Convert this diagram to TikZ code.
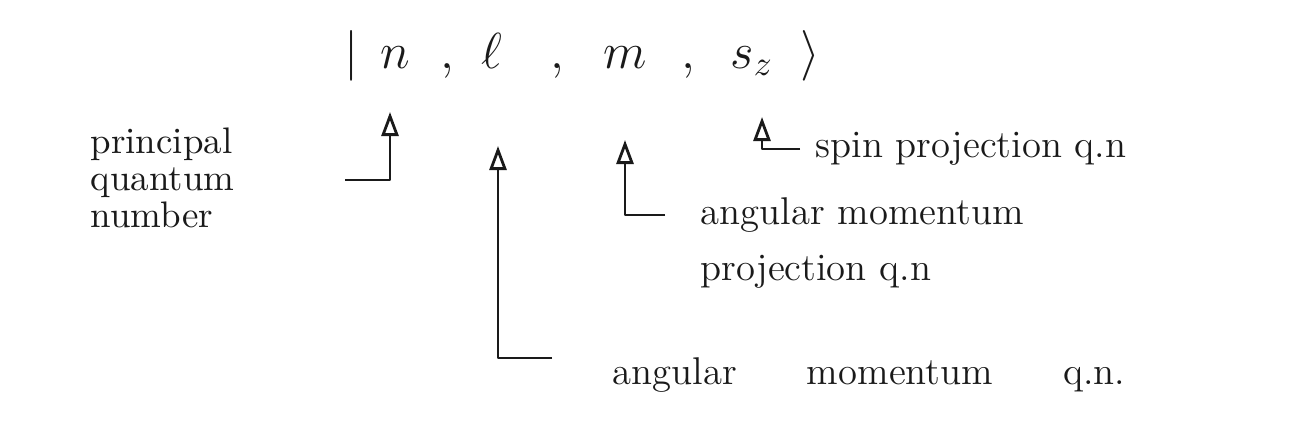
\documentclass[tikz,border=0pt]{standalone}
\usepackage{amsmath,amssymb}
\usepackage{xcolor}
\usepackage{tikz}
\usetikzlibrary{arrows.meta}
\definecolor{ink}{HTML}{1A1A1A}
\tikzset{
  qarrow/.style={thick,ink,line join=round,-{Triangle[open,length=2.4mm,width=1.7mm]}},
  ketsym/.style={anchor=base,inner sep=0pt,font=\Large,text=ink},
  qlabel/.style={anchor=base west,inner sep=0pt,font=\fontsize{11}{13}\selectfont,text=ink,align=left}
}

\begin{document}
\begin{tikzpicture}[x=0.01cm,y=-0.01cm]
\useasboundingbox (0,0) rectangle (1295,439);
% the ket
\node[ketsym] (kbar) at (352,68) {$|$};
\node[ketsym] (kn) at (395,68) {$n$};
\node[ketsym] at (447,68) {$,$};
\node[ketsym] (kl) at (492,68) {$\ell$};
\node[ketsym] at (557,68) {$,$};
\node[ketsym] (km) at (625,68) {$m$};
\node[ketsym] at (688,68) {$,$};
\node[ketsym] (ks) at (752,68) {$s_z$};
\node[ketsym] (kang) at (810,68) {$\rangle$};
% labels
\node[qlabel,anchor=west,font=\fontsize{10.5}{10.5}\selectfont] (lprin) at (90,178) {principal\\quantum\\number};
\node[qlabel] (lspin) at (815,157) {spin projection q.n};
\node[qlabel,anchor=west,font=\fontsize{11}{16}\selectfont] (lproj) at (700,243) {angular momentum\\projection q.n};
\node[qlabel] (lang) at (612,384) {angular\hspace{7mm}momentum\hspace{7mm}q.n.};
% arrow corners
\coordinate (fn) at (345,180); \coordinate (tn) at (390,112);
\coordinate (fl) at (552,358); \coordinate (tl) at (498,146);
\coordinate (fm) at (665,215); \coordinate (tm) at (625,140);
\coordinate (fs) at (800,149); \coordinate (ts) at (762,117);
\draw[qarrow] (fn) -| (tn);
\draw[qarrow] (fl) -| (tl);
\draw[qarrow] (fm) -| (tm);
\draw[qarrow] (fs) -| (ts);
\end{tikzpicture}
\end{document}
